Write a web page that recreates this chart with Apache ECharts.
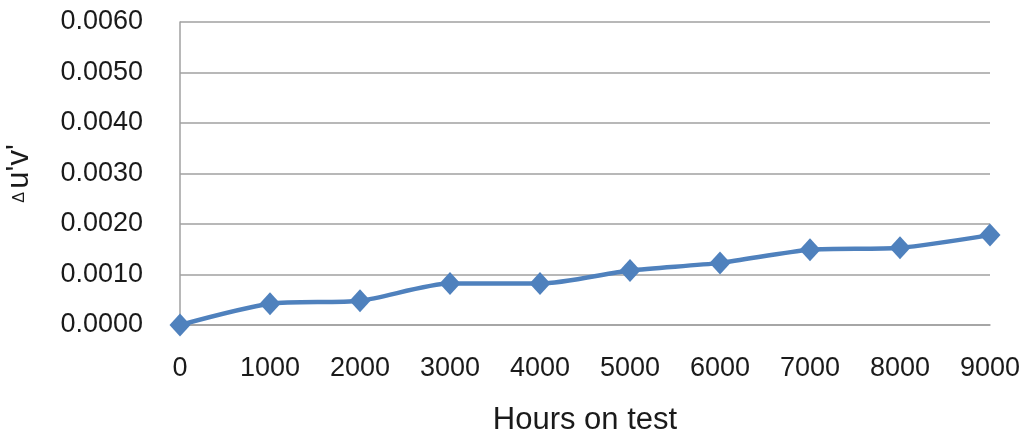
<!DOCTYPE html>
<html>
<head>
<meta charset="utf-8">
<script src="https://cdn.jsdelivr.net/npm/echarts@6/dist/echarts.min.js"></script>
<style>
html,body{margin:0;padding:0;background:#fff;}
#chart{width:1028px;height:435px;}
</style>
</head>
<body>
<div id="chart"></div>
<script>
var hours = [0, 1000, 2000, 3000, 4000, 5000, 6000, 7000, 8000, 9000];
var duv = [0.0000, 0.00042, 0.00048, 0.00082, 0.00082, 0.00108, 0.00123, 0.00149, 0.00153, 0.00178];
var xTitle = 'Hours on test';
var yTitleDelta = '\u0394';
var yTitleRest = "u'v'";

var chart = echarts.init(document.getElementById('chart'));
var pts = hours.map(function (h, i) { return [h, duv[i]]; });
chart.setOption({
  animation: false,
  grid: { left: 180, right: 38, top: 22, bottom: 110, containLabel: false, outerBoundsMode: 'none' },
  xAxis: {
    type: 'value', min: 0, max: 9000, interval: 1000,
    name: xTitle, nameLocation: 'middle', nameGap: 80,
    nameTextStyle: { fontFamily: 'Liberation Sans', fontSize: 31, color: '#1a1a1a' },
    axisLine: { show: true, lineStyle: { color: '#a0a0a0', width: 1.5 } },
    axisTick: { show: false },
    splitLine: { show: false },
    axisLabel: {
      margin: 30, fontFamily: 'Liberation Sans', fontSize: 27, color: '#1a1a1a',
      formatter: function (v) { return String(v); }
    }
  },
  yAxis: {
    type: 'value', min: 0, max: 0.006, interval: 0.001,
    name: '{d|' + yTitleDelta + '} {t|' + yTitleRest + '}',
    nameLocation: 'middle', nameGap: 145, nameRotate: 90,
    nameTextStyle: {
      color: '#1a1a1a',
      rich: {
        d: { fontFamily: 'Liberation Sans', fontSize: 16, color: '#1a1a1a' },
        t: { fontFamily: 'Liberation Sans', fontSize: 31, color: '#1a1a1a' }
      }
    },
    axisLine: { show: true, lineStyle: { color: '#a0a0a0', width: 1.5 } },
    axisTick: { show: false },
    splitLine: { show: true, lineStyle: { color: '#a0a0a0', width: 1.5 } },
    axisLabel: {
      margin: 37, fontFamily: 'Liberation Sans', fontSize: 27, color: '#1a1a1a',
      formatter: function (v) { return v.toFixed(4); }
    }
  },
  series: [{
    type: 'line',
    data: pts,
    smooth: 0.25,
    symbol: 'diamond',
    symbolSize: [21, 23],
    lineStyle: { color: '#4F81BD', width: 4.5 },
    itemStyle: { color: '#4F81BD' }
  }]
});
</script>
</body>
</html>
